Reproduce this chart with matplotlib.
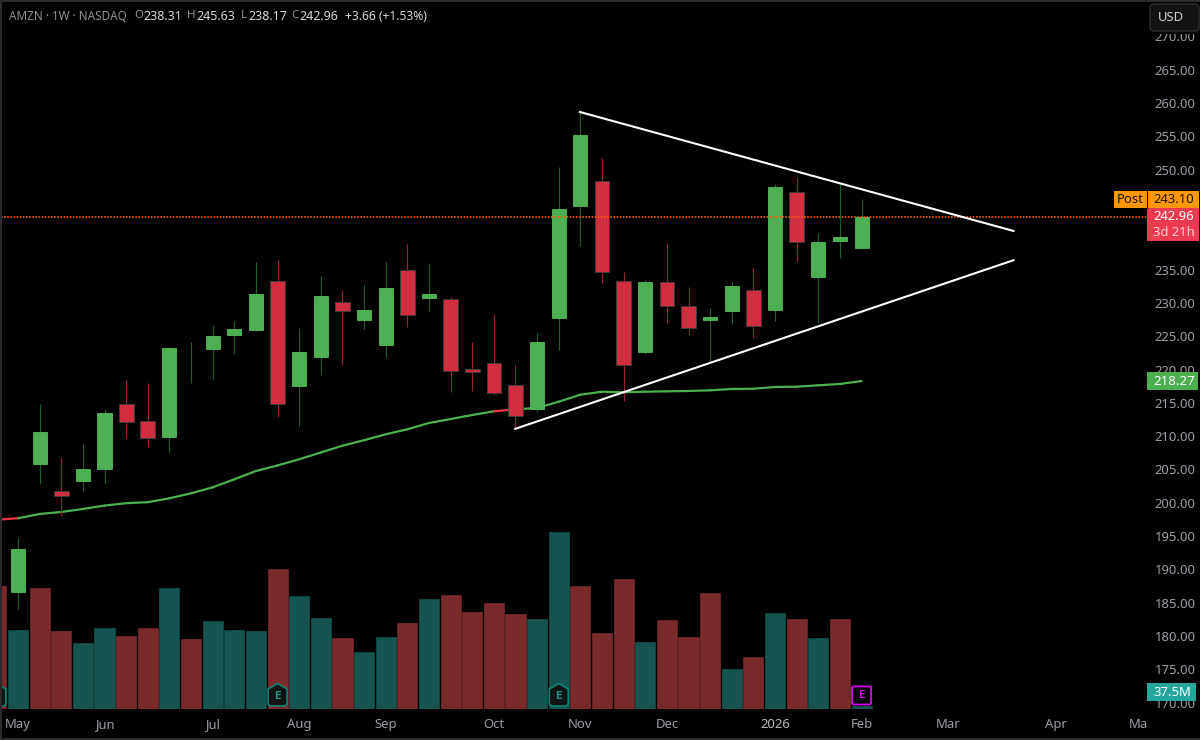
import matplotlib
matplotlib.use("Agg")
import matplotlib.pyplot as plt
from matplotlib.patches import Rectangle, FancyBboxPatch, Polygon

plt.rcParams['font.family'] = ['Noto Sans', 'DejaVu Sans']

# ---- data (weekly AMZN) ----
opens = [186.65,205.78,201.72,203.27,205.12,214.83,212.32,209.92,223.9,223.13,225.14,225.89,233.33,217.57,221.88,230.18,227.39,223.64,234.94,230.78,230.54,220.03,221.02,217.68,214.03,227.78,244.5,248.34,233.33,222.63,233.18,229.53,227.39,228.78,231.93,228.89,246.69,233.89,239.33,238.31]
highs = [194.72,214.83,206.72,208.82,214.03,218.58,217.98,223.38,224.13,226.68,227.33,236.09,236.54,226.19,234.08,231.93,232.69,236.09,238.84,235.94,230.88,224.18,228.33,220.68,225.44,250.44,258.65,251.7,234.59,233.39,238.94,232.43,229.19,233.14,235.43,247.84,248.94,240.44,247.8,245.63]
lows = [184.06,202.82,198.06,201.77,202.82,209.77,208.42,207.44,217.98,218.53,222.29,225.78,212.92,211.57,219.18,220.68,226.13,221.93,226.43,228.78,216.69,216.78,216.18,211.18,213.67,222.93,238.54,233.03,215.28,222.33,226.94,225.23,221.18,226.79,224.78,227.28,236.24,227.03,236.78,238.17]
closes = [193.02,210.67,201.06,205.03,213.52,212.17,209.68,223.23,223.9,224.99,226.08,231.33,214.83,222.59,230.99,228.83,228.98,232.24,228.18,231.33,219.82,219.58,216.43,213.07,224.09,244.09,255.2,234.68,220.68,233.14,229.53,226.19,227.84,232.49,226.53,247.35,239.18,239.09,239.84,242.96]

volumes = [211.5,147.7,209.0,146.3,128.4,150.2,139.0,151.0,209.0,134.2,160.8,147.7,146.3,235.7,197.0,164.7,135.7,116.2,138.0,158.3,192.2,198.5,173.8,186.4,171.3,163.2,289.8,211.5,142.9,221.2,130.7,162.2,138.0,201.8,90.7,109.0,172.8,163.2,135.7,163.2,37.5]
volume_up = [0,1,0,0,1,1,0,0,1,0,1,1,1,0,1,1,0,1,1,0,1,0,0,0,0,1,1,0,0,0,1,0,0,0,1,0,1,0,1,0,1]

ma_values = [197.45,197.68,198.32,198.62,199.07,199.58,199.94,200.09,200.67,201.42,202.32,203.52,204.77,205.6,206.53,207.55,208.57,209.39,210.28,211.03,211.97,212.57,213.17,213.73,214.03,214.23,215.17,216.22,216.67,216.58,216.67,216.73,216.78,216.88,217.08,217.12,217.38,217.42,217.63,217.83,218.27]
ma_falling_segments = [0, 23]

trend_upper_idx = [25.98, 46.02]
trend_upper_price = [258.65, 240.8]
trend_lower_idx = [22.99, 46.02]
trend_lower_price = [211.1, 236.4]

price_ticks = [170,175,180,185,190,195,200,205,210,215,220,225,230,235,250,255,260,265,270]
month_labels = ['May','Jun','Jul','Aug','Sep','Oct','Nov','Dec','2026','Feb','Mar','Apr','Ma']
month_idx = [0,4,9,13,17,22,26,30,35,39,43,48,51.8]
earnings_idx = [-1, 12, 25]
future_earnings_idx = 39
last_price = 242.96
post_price = 243.10
ma_last = 218.27

# ---- geometry helpers ----
W, H = 1200, 740
PX_PER_BAR = 21.63
PX_PER_USD = 6.663
X0 = 18.0
def px_x(i): return X0 + i * PX_PER_BAR
def px_y(p): return 103 + (260 - p) * PX_PER_USD

L, R, T, B = 1, 1147, 2, 709
fig = plt.figure(figsize=(12, 7.4), dpi=100, facecolor='black')
rect = [L / W, 1 - B / H, (R - L) / W, (B - T) / H]

TXT = '#9b9ea6'
xlim = ((L - X0) / PX_PER_BAR, (R - X0) / PX_PER_BAR)

# volume pane
ax_v = fig.add_axes(rect, zorder=1, facecolor='black')
ax_v.set_xlim(*xlim)
ax_v.set_ylim(33.15, 33.15 + (B - T) * 1.45)
ax_v.axis('off')
vx = list(range(-1, 40))
ax_v.bar(vx, volumes, width=0.93, bottom=0,
         color=['#15544f' if u else '#7a2a2b' for u in volume_up],
         edgecolor=['#114a46' if u else '#6a2425' for u in volume_up], linewidth=0.6)

# price pane
ax = fig.add_axes(rect, zorder=2)
ax.patch.set_alpha(0)
ax.set_xlim(*xlim)
ax.set_ylim(260 - (B - 103) / PX_PER_USD, 260 + (103 - T) / PX_PER_USD)
for s in ax.spines.values():
    s.set_visible(False)

# moving average
mx = list(range(-1, 40))
for k in range(len(ma_values) - 1):
    c = '#f23645' if k in ma_falling_segments else '#4caf50'
    ax.plot(mx[k:k + 2], ma_values[k:k + 2], color=c, lw=1.6, zorder=2, solid_capstyle='round')

# candles
for i, (o, h, l, c) in enumerate(zip(opens, highs, lows, closes)):
    up = c >= o
    ax.vlines(i, l, h, color='#1f5c24' if up else '#97202f', lw=0.85, zorder=3)
    if o != c:
        ax.bar(i, abs(c - o), bottom=min(o, c), width=0.65 if up else 0.68,
               color='#4db052' if up else '#d02e3e',
               edgecolor='#58b85c' if up else '#3a3f44', linewidth=0.6, zorder=4)

# last price line
ax.axhline(last_price, color='#ff5a00', lw=1.25, linestyle=(0, (0.9, 0.9)), zorder=5)

# trend lines
ax.plot(trend_upper_idx, trend_upper_price, color='white', lw=1.5, zorder=6)
ax.plot(trend_lower_idx, trend_lower_price, color='white', lw=1.5, zorder=6)

# axes ticks
ax.yaxis.tick_right()
ax.set_yticks(price_ticks)
ax.set_yticklabels([f'{p:.2f}' for p in price_ticks])
ax.tick_params(axis='y', length=0, pad=5.6, labelsize=9.4, labelcolor=TXT)
ax.set_xticks(month_idx)
ax.set_xticklabels(month_labels)
ax.tick_params(axis='x', length=0, pad=6.2, labelsize=9.4, labelcolor=TXT)
for t in ax.get_xticklabels():
    if t.get_text() == '2026':
        t.set_fontweight('bold')
        t.set_color('#b9bbc0')

# overlay in pixel coordinates
ov = fig.add_axes([0, 0, 1, 1], zorder=3)
ov.patch.set_alpha(0)
ov.set_xlim(0, W)
ov.set_ylim(H, 0)
ov.axis('off')

# window frame
for r in [(0, 0, W, 1.5), (0, 0, 1.5, H), (0, 737.5, W, 2.5)]:
    ov.add_patch(Rectangle((r[0], r[1]), r[2], r[3], color='#2b2b2d', lw=0, zorder=20))

# header
hdr_y = 16
LBL, VAL = '#8d9097', '#d6d7da'
def hdr(x, s, c, size=9.0):
    ov.text(x, hdr_y, s, color=c, fontsize=size, va='center', ha='left', zorder=12)
hdr(9, 'AMZN · 1W · NASDAQ', LBL, 8.45)
hdr(134, 'O', LBL, 8.3); hdr(143, '238.31', VAL)
hdr(187, 'H', LBL, 8.3); hdr(196, '245.63', VAL)
hdr(241, 'L', LBL, 8.3); hdr(248, '238.17', VAL)
hdr(291, 'C', LBL, 8.3); hdr(299.5, '242.96', VAL)
hdr(345, '+3.66 (+1.53%)', VAL, 8.7)

# USD button, covers the top of the scale
ov.add_patch(Rectangle((1148, 0), 52, 34, color='black', lw=0, zorder=5))
ov.add_patch(FancyBboxPatch((1152, 6), 45, 23, boxstyle='round,pad=2,rounding_size=4',
                            fc='#121212', ec='#2e2e2e', lw=1, zorder=6))
ov.text(1170.5, 17.5, 'USD', color='#cfd0d3', fontsize=9.4, ha='center', va='center', zorder=7)

# price labels
ov.add_patch(Rectangle((1113.5, 190.5), 33, 17.5, fc='#ff9800', ec='none', zorder=6))
ov.add_patch(Rectangle((1147, 190.5), 51.5, 17.5, fc='#ff9800', ec='none', zorder=6))
ov.plot([1146.6, 1146.6], [190.5, 208], color='black', lw=0.7, zorder=7)
ov.text(1130, 199.5, 'Post', color='#1a1205', fontsize=9.4, ha='center', va='center', zorder=8)
ov.text(1174, 199.5, f'{post_price:.2f}', color='#1a1205', fontsize=9.4, ha='center', va='center', zorder=8)
ov.add_patch(Rectangle((1147, 208), 51.5, 33, fc='#ee3a4e', ec='none', zorder=6))
ov.text(1174, px_y(last_price), f'{last_price:.2f}', color='white', fontsize=9.4, fontweight='bold', ha='center', va='center', zorder=8)
ov.text(1174, 232, '3d 21h', color='#ffd4d8', fontsize=9.4, ha='center', va='center', zorder=8)
ov.add_patch(Rectangle((1147, px_y(ma_last) - 9), 51, 17.5, fc='#4caf50', ec='none', zorder=6))
ov.text(1174, px_y(ma_last), f'{ma_last:.2f}', color='white', fontsize=9.6, ha='center', va='center', zorder=8)
ov.add_patch(Rectangle((1147, 683.3), 49, 17.5, fc='#26a69a', ec='none', zorder=6))
ov.text(1172, 692, '37.5M', color='white', fontsize=9.4, ha='center', va='center', zorder=8)

# earnings markers
for i in earnings_idx:
    cx = px_x(i)
    pts = [(cx - 9.5, 689), (cx, 683.5), (cx + 9.5, 689), (cx + 9.5, 704), (cx + 7.5, 706),
           (cx - 7.5, 706), (cx - 9.5, 704)]
    ov.add_patch(Polygon(pts, closed=True, fc='#0e1412', ec='#0b8577', lw=1.2, zorder=4))
    if cx > 8:
        ov.text(cx, 696, 'E', color='#1f9486', fontsize=8.2, fontweight='bold', ha='center', va='center',
                family='DejaVu Sans Mono', zorder=5)
cx = px_x(future_earnings_idx)
ov.add_patch(FancyBboxPatch((cx - 8.5, 687.5), 17, 16, boxstyle='round,pad=1,rounding_size=1.5',
                            fc='black', ec='#d500f0', lw=1.3, zorder=4))
ov.text(cx, 695.5, 'E', color='#d500f0', fontsize=8.2, fontweight='bold', ha='center', va='center',
        family='DejaVu Sans Mono', zorder=5)

fig.savefig('out.png', dpi=100, facecolor='black')
